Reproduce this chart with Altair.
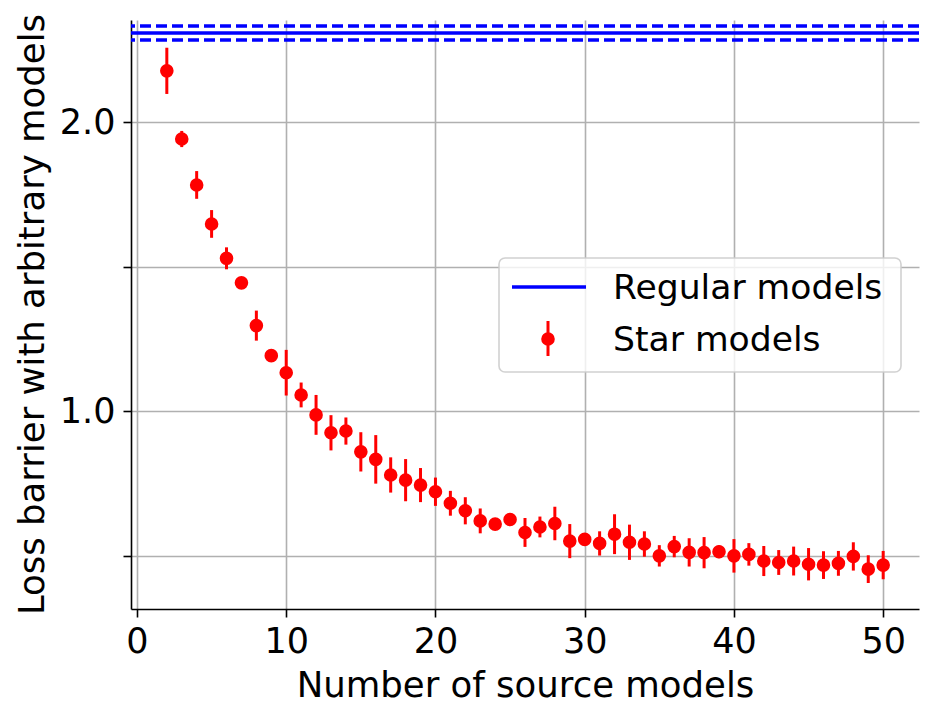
import altair as alt
import pandas as pd

# ---- data ----
n_sources = list(range(2, 51))
star_loss = [2.178, 1.942, 1.783, 1.648, 1.529, 1.444, 1.296, 1.192, 1.133, 1.056,
             0.987, 0.925, 0.931, 0.859, 0.833, 0.779, 0.761, 0.744, 0.721, 0.681,
             0.655, 0.620, 0.609, 0.625, 0.580, 0.599, 0.611, 0.550, 0.556, 0.542,
             0.574, 0.546, 0.540, 0.499, 0.531, 0.511, 0.510, 0.513, 0.499, 0.504,
             0.481, 0.476, 0.481, 0.470, 0.467, 0.473, 0.497, 0.453, 0.467]
star_err = [0.080, 0.028, 0.048, 0.048, 0.038, 0.015, 0.052, 0.020, 0.079, 0.043,
            0.069, 0.061, 0.047, 0.068, 0.084, 0.061, 0.073, 0.059, 0.049, 0.043,
            0.047, 0.043, 0.020, 0.020, 0.050, 0.036, 0.058, 0.059, 0.020, 0.042,
            0.069, 0.061, 0.044, 0.037, 0.037, 0.049, 0.054, 0.022, 0.058, 0.039,
            0.052, 0.043, 0.050, 0.056, 0.048, 0.043, 0.049, 0.048, 0.049]
regular_mean = [2.309]
regular_band = [2.285, 2.333]

x_ticks = [0, 10, 20, 30, 40, 50]
y_ticks = [0.5, 1.0, 1.5, 2.0]
y_labelled = [1.0, 2.0]
legend_labels = ["Regular models", "Star models"]

FONT = "DejaVu Sans"
FS = 35
TFS = 35.5
LFS = 34.6

star = pd.DataFrame({"n": n_sources, "loss": star_loss, "err": star_err})
star["lo"] = star["loss"] - star["err"]
star["hi"] = star["loss"] + star["err"]
reg_mean = pd.DataFrame({"loss": regular_mean})
reg_band = pd.DataFrame({"loss": regular_band})

xscale = alt.Scale(domain=[-0.4, 52.4], nice=False, zero=False)
yscale = alt.Scale(domain=[0.315, 2.354], nice=False, zero=False)

xaxis = alt.Axis(values=x_ticks, title="Number of source models", format="d",
                 titleBaseline="alphabetic", titleY=87, titleX=394, titleAnchor="middle",
                 labelPadding=7)
label_cond = " || ".join(f"datum.value == {v}" for v in y_labelled)
yaxis = alt.Axis(values=y_ticks, title="Loss barrier with arbitrary models",
                 labelExpr=f"({label_cond}) ? format(datum.value, '.1f') : ''",
                 titleBaseline="alphabetic", titleX=-88, titleY=294, titleAngle=270,
                 titleAnchor="middle", labelPadding=8)

X = alt.X("n:Q", scale=xscale, axis=xaxis)
Y = alt.Y("loss:Q", scale=yscale, axis=yaxis)

base = alt.Chart(star)
err_bars = base.mark_rule(color="#ff0000", strokeWidth=3).encode(
    x=X, y=alt.Y("lo:Q", scale=yscale, axis=yaxis), y2="hi:Q")
points = base.mark_point(filled=True, color="#ff0000", size=185, opacity=1).encode(x=X, y=Y)

mean_line = alt.Chart(reg_mean).mark_rule(color="#0000ff", strokeWidth=3.5).encode(y=Y)
band_lines = alt.Chart(reg_band).mark_rule(color="#0000ff", strokeWidth=3.5,
                                           strokeDash=[11, 5]).encode(y=Y)

# ---- legend box (decoration) ----
one = alt.Data(values=[{"k": 0}])
leg_box = alt.Chart(one).mark_rect(fill="white", fillOpacity=0.8, stroke="#cccccc",
                                   strokeOpacity=0.9, strokeWidth=1.6, cornerRadius=6).encode(
    x=alt.value(368), x2=alt.value(770), y=alt.value(238), y2=alt.value(352))
leg_line = alt.Chart(one).mark_rule(color="#0000ff", strokeWidth=3.5).encode(
    x=alt.value(381), x2=alt.value(455), y=alt.value(267))
leg_err = alt.Chart(one).mark_rule(color="#ff0000", strokeWidth=3).encode(
    x=alt.value(417), y=alt.value(301), y2=alt.value(336))
leg_pt = alt.Chart(one).mark_point(filled=True, color="#ff0000", size=185, opacity=1).encode(
    x=alt.value(417), y=alt.value(319))
leg_t1 = alt.Chart(one).mark_text(align="left", baseline="alphabetic", font=FONT,
                                  fontSize=LFS, color="black").encode(
    x=alt.value(482), y=alt.value(279), text=alt.value(legend_labels[0]))
leg_t2 = alt.Chart(one).mark_text(align="left", baseline="alphabetic", font=FONT,
                                  fontSize=LFS, color="black").encode(
    x=alt.value(482), y=alt.value(331), text=alt.value(legend_labels[1]))

chart = alt.layer(
    band_lines, mean_line, err_bars, points,
    leg_box, leg_line, leg_err, leg_pt, leg_t1, leg_t2
).properties(
    width=788, height=589,
    autosize=alt.AutoSizeParams(type="none"),
    padding={"left": 123, "top": 12, "right": 6, "bottom": 95},
    background="white",
).configure_view(stroke=None).configure_axis(
    domainColor="black", domainWidth=1.6, tickColor="black", tickWidth=1.6, tickSize=8,
    gridColor="#b0b0b0", gridWidth=1.6, grid=True,
    labelFont=FONT, labelFontSize=FS, labelColor="black",
    titleFont=FONT, titleFontSize=TFS, titleColor="black", titleFontWeight="normal",
)

chart.save("out.html", embed_options={"renderer": "svg", "actions": False})
